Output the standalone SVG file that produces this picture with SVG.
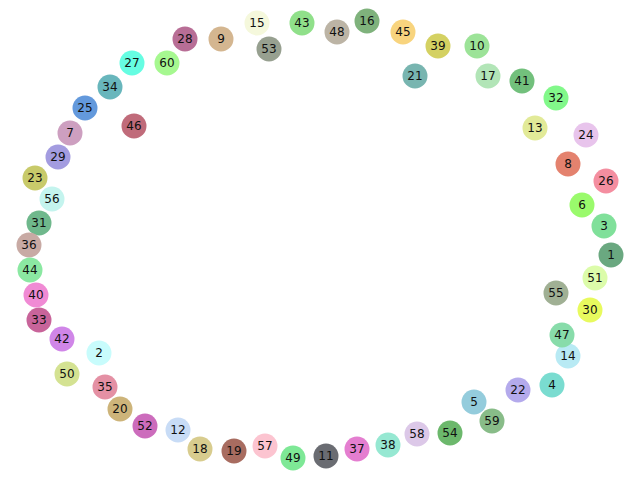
<svg xmlns="http://www.w3.org/2000/svg" width="640" height="480" viewBox="0 0 640 480">
<style>
circle{stroke:none}
text{font-family:"DejaVu Sans",sans-serif;font-size:12px;fill:#111;text-anchor:middle;dominant-baseline:central}
</style>
<rect width="640" height="480" fill="#fff"/>
<g id="connectors"></g>
<g id="n1"><circle cx="611" cy="255" r="12.5" fill="#6aa880"/><text x="611" y="255">1</text></g>
<g id="n2"><circle cx="99" cy="353" r="12.5" fill="#c8fcfc"/><text x="99" y="353">2</text></g>
<g id="n3"><circle cx="604" cy="226" r="12.5" fill="#80e09a"/><text x="604" y="226">3</text></g>
<g id="n4"><circle cx="552" cy="385" r="12.5" fill="#7adcd0"/><text x="552" y="385">4</text></g>
<g id="n5"><circle cx="474" cy="402" r="12.5" fill="#94ccdc"/><text x="474" y="402">5</text></g>
<g id="n6"><circle cx="582" cy="205" r="12.5" fill="#9afa6c"/><text x="582" y="205">6</text></g>
<g id="n7"><circle cx="70" cy="133" r="12.5" fill="#cd9fc0"/><text x="70" y="133">7</text></g>
<g id="n8"><circle cx="568" cy="164" r="12.5" fill="#e4826e"/><text x="568" y="164">8</text></g>
<g id="n9"><circle cx="221" cy="39" r="12.5" fill="#d4b690"/><text x="221" y="39">9</text></g>
<g id="n10"><circle cx="477" cy="46" r="12.5" fill="#9ce398"/><text x="477" y="46">10</text></g>
<g id="n11"><circle cx="326" cy="456" r="12.5" fill="#6a6c72"/><text x="326" y="456">11</text></g>
<g id="n12"><circle cx="178" cy="430" r="12.5" fill="#c8dcf6"/><text x="178" y="430">12</text></g>
<g id="n13"><circle cx="535" cy="128" r="12.5" fill="#e2ea98"/><text x="535" y="128">13</text></g>
<g id="n14"><circle cx="568" cy="356" r="12.5" fill="#b8eaf4"/><text x="568" y="356">14</text></g>
<g id="n15"><circle cx="257" cy="23" r="12.5" fill="#f5f8dc"/><text x="257" y="23">15</text></g>
<g id="n16"><circle cx="367" cy="21" r="12.5" fill="#7fb27c"/><text x="367" y="21">16</text></g>
<g id="n17"><circle cx="488" cy="76" r="12.5" fill="#b2e5b7"/><text x="488" y="76">17</text></g>
<g id="n18"><circle cx="200" cy="449" r="12.5" fill="#d8cc8e"/><text x="200" y="449">18</text></g>
<g id="n19"><circle cx="234" cy="451" r="12.5" fill="#a86c60"/><text x="234" y="451">19</text></g>
<g id="n20"><circle cx="120" cy="409" r="12.5" fill="#cdb47a"/><text x="120" y="409">20</text></g>
<g id="n21"><circle cx="415" cy="76" r="12.5" fill="#78b5b0"/><text x="415" y="76">21</text></g>
<g id="n22"><circle cx="518" cy="390" r="12.5" fill="#b4aaec"/><text x="518" y="390">22</text></g>
<g id="n23"><circle cx="35" cy="178" r="12.5" fill="#c8ca6a"/><text x="35" y="178">23</text></g>
<g id="n24"><circle cx="586" cy="135" r="12.5" fill="#e8c4ec"/><text x="586" y="135">24</text></g>
<g id="n25"><circle cx="85" cy="108" r="12.5" fill="#6399dc"/><text x="85" y="108">25</text></g>
<g id="n26"><circle cx="606" cy="181" r="12.5" fill="#f48ea0"/><text x="606" y="181">26</text></g>
<g id="n27"><circle cx="132" cy="63" r="12.5" fill="#66fde2"/><text x="132" y="63">27</text></g>
<g id="n28"><circle cx="185" cy="39" r="12.5" fill="#b86e96"/><text x="185" y="39">28</text></g>
<g id="n29"><circle cx="58" cy="157" r="12.5" fill="#a39ce0"/><text x="58" y="157">29</text></g>
<g id="n30"><circle cx="590" cy="310" r="12.5" fill="#e8fa5e"/><text x="590" y="310">30</text></g>
<g id="n31"><circle cx="39" cy="223" r="12.5" fill="#6fb88c"/><text x="39" y="223">31</text></g>
<g id="n32"><circle cx="556" cy="98" r="12.5" fill="#82f88a"/><text x="556" y="98">32</text></g>
<g id="n33"><circle cx="39" cy="320" r="12.5" fill="#c8649a"/><text x="39" y="320">33</text></g>
<g id="n34"><circle cx="110" cy="87" r="12.5" fill="#68b6bc"/><text x="110" y="87">34</text></g>
<g id="n35"><circle cx="105" cy="387" r="12.5" fill="#e490a4"/><text x="105" y="387">35</text></g>
<g id="n36"><circle cx="29" cy="245" r="12.5" fill="#c8aaa4"/><text x="29" y="245">36</text></g>
<g id="n37"><circle cx="357" cy="449" r="12.5" fill="#e47ed0"/><text x="357" y="449">37</text></g>
<g id="n38"><circle cx="388" cy="445" r="12.5" fill="#96e8d2"/><text x="388" y="445">38</text></g>
<g id="n39"><circle cx="438" cy="46" r="12.5" fill="#d4d162"/><text x="438" y="46">39</text></g>
<g id="n40"><circle cx="36" cy="295" r="12.5" fill="#f08ad4"/><text x="36" y="295">40</text></g>
<g id="n41"><circle cx="522" cy="81" r="12.5" fill="#72c07c"/><text x="522" y="81">41</text></g>
<g id="n42"><circle cx="62" cy="339" r="12.5" fill="#d086e8"/><text x="62" y="339">42</text></g>
<g id="n43"><circle cx="302" cy="23" r="12.5" fill="#90e08a"/><text x="302" y="23">43</text></g>
<g id="n44"><circle cx="30" cy="270" r="12.5" fill="#8be8a2"/><text x="30" y="270">44</text></g>
<g id="n45"><circle cx="403" cy="32" r="12.5" fill="#f8d47e"/><text x="403" y="32">45</text></g>
<g id="n46"><circle cx="134" cy="126" r="12.5" fill="#c06b7a"/><text x="134" y="126">46</text></g>
<g id="n47"><circle cx="562" cy="335" r="12.5" fill="#88dcaa"/><text x="562" y="335">47</text></g>
<g id="n48"><circle cx="337" cy="32" r="12.5" fill="#bcb4a5"/><text x="337" y="32">48</text></g>
<g id="n49"><circle cx="293" cy="458" r="12.5" fill="#7ee896"/><text x="293" y="458">49</text></g>
<g id="n50"><circle cx="67" cy="374" r="12.5" fill="#d4e292"/><text x="67" y="374">50</text></g>
<g id="n51"><circle cx="595" cy="278" r="12.5" fill="#dcfcaa"/><text x="595" y="278">51</text></g>
<g id="n52"><circle cx="145" cy="426" r="12.5" fill="#cc6cbc"/><text x="145" y="426">52</text></g>
<g id="n53"><circle cx="269" cy="49" r="12.5" fill="#97a090"/><text x="269" y="49">53</text></g>
<g id="n54"><circle cx="450" cy="433" r="12.5" fill="#6cb86c"/><text x="450" y="433">54</text></g>
<g id="n55"><circle cx="556" cy="293" r="12.5" fill="#a0b094"/><text x="556" y="293">55</text></g>
<g id="n56"><circle cx="52" cy="199" r="12.5" fill="#c4f4ee"/><text x="52" y="199">56</text></g>
<g id="n57"><circle cx="265" cy="446" r="12.5" fill="#fcc4d0"/><text x="265" y="446">57</text></g>
<g id="n58"><circle cx="417" cy="434" r="12.5" fill="#dcc8e8"/><text x="417" y="434">58</text></g>
<g id="n59"><circle cx="492" cy="421" r="12.5" fill="#88bc88"/><text x="492" y="421">59</text></g>
<g id="n60"><circle cx="167" cy="63" r="12.5" fill="#a6f890"/><text x="167" y="63">60</text></g>
</svg>
